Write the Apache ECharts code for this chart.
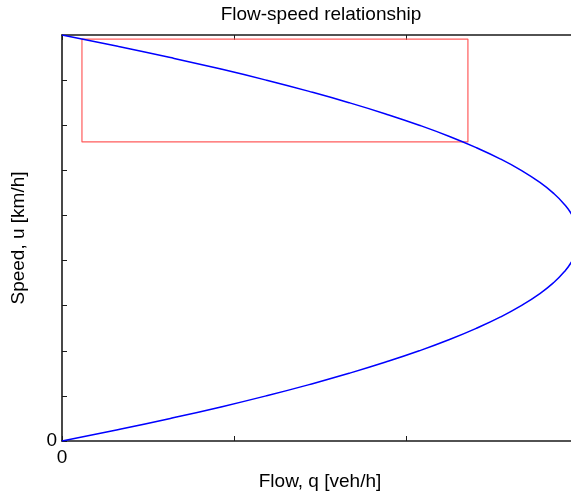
<!DOCTYPE html>
<html>
<head>
<meta charset="utf-8">
<script src="https://cdn.jsdelivr.net/npm/echarts@6/dist/echarts.min.js"></script>
<style>
  html, body { margin: 0; padding: 0; background: #fff; }
  #chart { width: 571px; height: 494px; }
</style>
</head>
<body>
<div id="chart"></div>
<script>
// Speed samples (km/h) and the matching flow (veh/h) along the flow-speed curve
const speedKmh = [0, 2.5, 5, 7.5, 10, 12.5, 15, 17.5, 20, 22.5, 25, 27.5, 30, 32.5, 35, 37.5, 40, 42.5, 45,
  47.5, 50, 52.5, 55, 57.5, 60, 62.5, 65, 67.5, 70, 72.5, 75, 77.5, 80, 82.5, 85, 87.5, 90];
const flowVeh = [0, 324, 630, 918, 1187, 1437, 1669, 1882, 2077, 2253, 2410, 2550, 2670, 2772, 2855, 2920, 2967, 2995, 3004,
  2995, 2967, 2920, 2855, 2772, 2670, 2550, 2410, 2253, 2077, 1882, 1669, 1437, 1187, 918, 630, 324, 0];

// Highlighted operating region (closed outline)
const boxFlow = [116, 2360, 2360, 116, 116];
const boxSpeed = [89.1, 89.1, 66.3, 66.3, 89.1];

// Only the origin is labelled on each axis
const xTickLabels = { 0: '0' };
const yTickLabels = { 0: '0' };

const FONT = '"Liberation Sans", Arial, sans-serif';
const AXIS_COLOR = '#1a1a1a';

const curve = speedKmh.map((u, i) => [flowVeh[i], u]);
const box = boxFlow.map((q, i) => [q, boxSpeed[i]]);

const axisLine = { show: true, onZero: false, lineStyle: { color: AXIS_COLOR, width: 1.6 } };
const axisTick = { show: true, inside: true, length: 5, lineStyle: { color: AXIS_COLOR, width: 1 } };

const chart = echarts.init(document.getElementById('chart'), null, { renderer: 'canvas' });
chart.setOption({
  backgroundColor: '#ffffff',
  animation: false,
  graphic: [{
    type: 'text',
    x: 321,
    y: 15,
    style: {
      text: 'Flow-speed relationship',
      fill: '#000',
      font: '19px ' + FONT,
      textAlign: 'center',
      textVerticalAlign: 'middle',
      align: 'center',
      verticalAlign: 'middle'
    }
  }],
  // the plot box runs a few pixels past the right edge of the page
  grid: { left: 62, top: 35, width: 516, height: 406, containLabel: false, outerBoundsMode: 'none' },
  xAxis: [{
    type: 'value',
    position: 'bottom',
    min: 0, max: 3000, interval: 1000,
    name: 'Flow, q [veh/h]',
    nameLocation: 'middle',
    nameGap: 29,
    nameTextStyle: { color: '#000', fontSize: 19, fontFamily: FONT },
    axisLine: axisLine,
    axisTick: axisTick,
    splitLine: { show: false },
    axisLabel: {
      margin: 7, color: '#000', fontSize: 19, fontFamily: FONT,
      formatter: v => xTickLabels[v] || ''
    }
  }, {
    type: 'value',
    position: 'top',
    min: 0, max: 3000, interval: 1000,
    axisLine: axisLine,
    axisTick: axisTick,
    splitLine: { show: false },
    axisLabel: { show: false }
  }],
  yAxis: [{
    type: 'value',
    position: 'left',
    min: 0, max: 90, interval: 10,
    name: 'Speed, u [km/h]',
    nameLocation: 'middle',
    nameGap: 34,
    nameTextStyle: { color: '#000', fontSize: 19, fontFamily: FONT },
    axisLine: axisLine,
    axisTick: axisTick,
    splitLine: { show: false },
    axisLabel: {
      margin: 5, color: '#000', fontSize: 19, fontFamily: FONT,
      formatter: v => yTickLabels[v] || ''
    }
  }, {
    type: 'value',
    position: 'right',
    min: 0, max: 90, interval: 10,
    axisLine: axisLine,
    axisTick: axisTick,
    splitLine: { show: false },
    axisLabel: { show: false }
  }],
  series: [{
    type: 'line',
    name: 'region',
    data: box,
    showSymbol: false,
    silent: true,
    lineStyle: { color: '#ff5c5c', width: 1.2 },
    z: 2
  }, {
    type: 'line',
    name: 'flow-speed',
    data: curve,
    showSymbol: false,
    smooth: 0.5,
    silent: true,
    lineStyle: { color: '#0000ff', width: 1.5 },
    z: 3
  }]
});
</script>
</body>
</html>
